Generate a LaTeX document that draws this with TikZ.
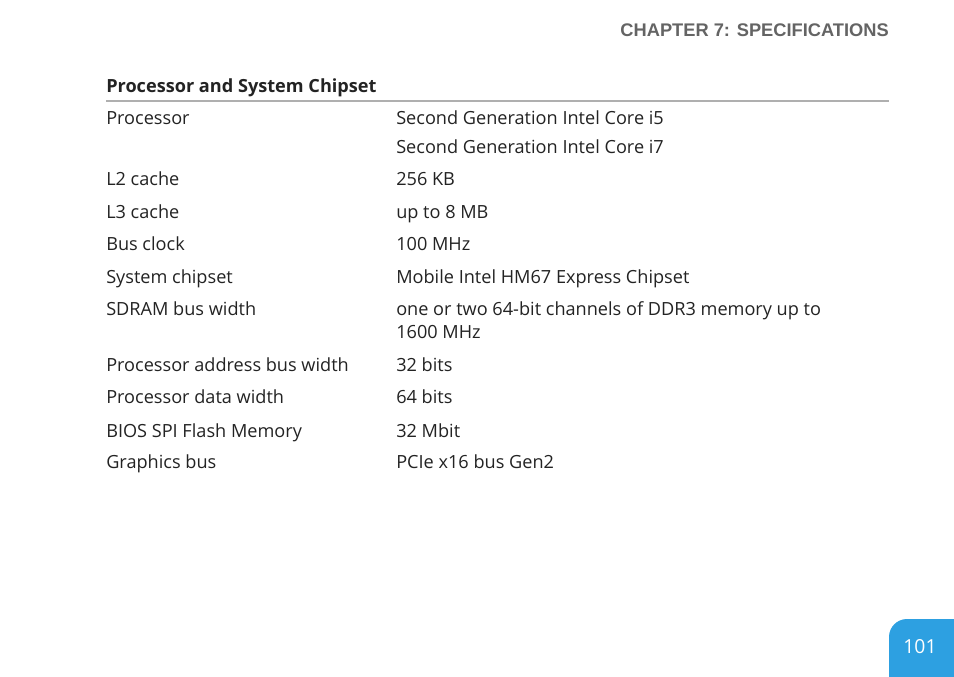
\documentclass[tikz,border=0pt]{standalone}
\usepackage{fontspec}
\setmainfont{Open Sans}
\newfontfamily\headfont{Liberation Sans}
\definecolor{tabblue}{RGB}{45,160,225}
\definecolor{textgray}{RGB}{35,35,35}
\definecolor{rulegray}{RGB}{175,175,175}
\definecolor{headgray}{RGB}{100,100,100}
\tikzset{
    cell/.style={anchor=base west, inner sep=0pt, text=textgray, font=\fontsize{13.6}{17.25}\selectfont},
    title/.style={cell, font=\fontsize{13.6}{17}\selectfont\bfseries},
}
\begin{document}
\begin{tikzpicture}[x=0.75pt, y=-0.75pt]
            \useasboundingbox[fill=white] (0, 0) rectangle (954, 677);
            %\draw[lightgray] (0, 0) grid[step=50] (954, 677);
            \node[anchor=base east, inner sep=0pt, text=headgray, font=\headfont\fontsize{13.7}{15}\selectfont\bfseries] (chapter) at (889, 37) {CHAPTER 7: SPECIFICATIONS};
            \node[title] (heading) at (106, 93) {Processor and System Chipset};
            \draw[rulegray, line width=1.5pt] (106, 101.5) -- (889, 101.5);
            % left column
            \node[cell] (proc) at (106, 125) {Processor};
            \node[cell] (ltwo) at (106, 186) {L2 cache};
            \node[cell] (lthree) at (106, 219) {L3 cache};
            \node[cell] (bus) at (106, 251) {Bus clock};
            \node[cell] (chip) at (106, 284) {System chipset};
            \node[cell] (sdram) at (106, 316) {SDRAM bus width};
            \node[cell] (addr) at (106, 372) {Processor address bus width};
            \node[cell] (data) at (106, 404) {Processor data width};
            \node[cell] (bios) at (106, 437) {BIOS SPI Flash Memory};
            \node[cell] (gfx) at (106, 469) {Graphics bus};
            % right column
            \node[cell] (procA) at (396, 125) {Second Generation Intel Core i5};
            \node[cell] (procB) at (396, 154) {Second Generation Intel Core i7};
            \node[cell] (ltwoV) at (396, 186) {256 KB};
            \node[cell] (lthreeV) at (396, 219) {up to 8 MB};
            \node[cell] (busV) at (396, 251) {100 MHz};
            \node[cell] (chipV) at (396, 284) {Mobile Intel HM67 Express Chipset};
            % base of a two-line node is its last line
            \node[cell, align=left] (sdramV) at (396, 339) {one or two 64-bit channels of DDR3 memory up to\\1600 MHz};
            \node[cell] (addrV) at (396, 372) {32 bits};
            \node[cell] (dataV) at (396, 404) {64 bits};
            \node[cell] (biosV) at (396, 437) {32 Mbit};
            \node[cell] (gfxV) at (396, 469) {PCIe x16 bus Gen2};
            % page tab
            \fill[tabblue] (889, 677) -- (889, 637) arc[start angle=180, end angle=270, radius=18] -- (954, 619) -- (954, 677) -- cycle;
            \node[text=white, inner sep=0pt, font=\fontsize{14.5}{16}\selectfont] (page) at (920, 647) {101};
        \end{tikzpicture}
\end{document}
